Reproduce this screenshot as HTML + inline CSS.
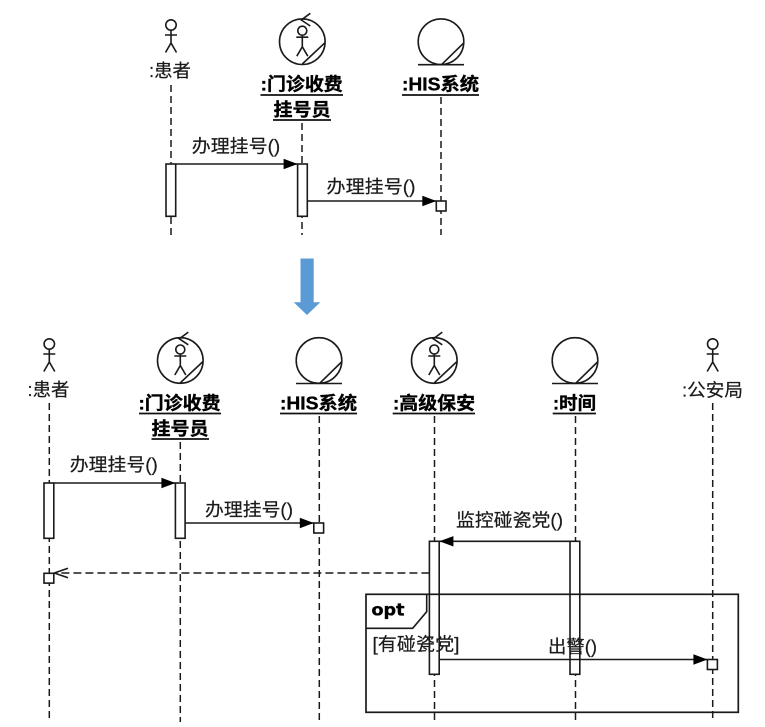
<!DOCTYPE html>
<html><head><meta charset="utf-8"><style>
html,body{margin:0;padding:0;background:#fff}
svg{display:block}
text{font-family:"Liberation Sans","Noto Sans CJK SC",sans-serif;font-size:18px;fill:#1a1a1a;stroke:#1a1a1a;stroke-width:.2px;text-anchor:middle;dominant-baseline:central}
text.b{font-weight:bold;fill:#000;stroke:#000;stroke-width:.35px}
.l{stroke:#1a1a1a;stroke-width:1.6;fill:none}
.ll{stroke:#1a1a1a;stroke-width:1.5;stroke-dasharray:7 4;fill:none}
.act{stroke:#1a1a1a;stroke-width:1.6;fill:#fff}
.u{stroke:#111;stroke-width:1.7}
.h{fill:#000;stroke:none}
</style></head><body>
<svg width="765" height="727" viewBox="0 0 765 727" xmlns="http://www.w3.org/2000/svg">
<defs>
<g id="actor" class="l"><circle cx="0" cy="0" r="5.2"/><path d="M0 5.2V18M-6 10H6M-5.5 27.5L0 18L5.5 27.5"/></g>
<g id="control" class="l"><circle cx="0" cy="0" r="22.8"/><path d="M8 -28.4L-1 -21.7L8 -15.7M22.7 1L0 22.3M-6 -4.5H6M0 -6V5M-5.5 14.5L0 5L5.5 14.5"/><circle cx="0" cy="-11" r="4.5" fill="#fff"/></g>
<g id="boundary" class="l"><circle cx="0" cy="0" r="22.8"/><path d="M-23 23H23M23 1L0.5 23"/></g>
<path id="hr" class="h" d="M0 0L-14 -5.2V5.2Z"/>
<path id="hl" class="h" d="M0 0L14 -5.2V5.2Z"/>
</defs>

<!-- top diagram -->
<use href="#actor" x="171" y="25"/>
<text x="170" y="71" textLength="42" lengthAdjust="spacingAndGlyphs">:患者</text>
<path class="ll" d="M171 85V235"/>
<use href="#control" x="302.3" y="41.7"/>
<text class="b" x="301.7" y="84.5" textLength="82" lengthAdjust="spacingAndGlyphs">:门诊收费</text>
<path class="u" d="M260.5 95H343"/>
<text class="b" x="302" y="110" textLength="57" lengthAdjust="spacingAndGlyphs">挂号员</text>
<path class="u" d="M273 120H331"/>
<path class="ll" d="M302 123V235"/>
<use href="#boundary" x="441" y="41.7"/>
<text class="b" x="440.5" y="84.5" textLength="77" lengthAdjust="spacingAndGlyphs">:HIS系统</text>
<path class="u" d="M402 95H479"/>
<path class="ll" d="M441 97V235"/>

<rect class="act" x="166" y="164" width="9.7" height="52.3"/>
<rect class="act" x="297.6" y="164" width="9.7" height="52.3"/>
<path class="l" d="M175.7 164H297"/><use href="#hr" x="297.6" y="164"/>
<text x="236" y="146.5" textLength="88.5" lengthAdjust="spacingAndGlyphs">办理挂号()</text>
<rect class="act" x="436.3" y="201" width="9.7" height="10"/>
<path class="l" d="M307.3 201H436"/><use href="#hr" x="436.3" y="201"/>
<text x="371" y="187" textLength="89" lengthAdjust="spacingAndGlyphs">办理挂号()</text>

<!-- block arrow -->
<path d="M300.5 258.5H313.7V302.3H320.3L307 315L293.7 302.3H300.5Z" fill="#5b9bd5"/>

<!-- bottom diagram -->
<use href="#actor" x="49.3" y="344"/>
<text x="48.5" y="390" textLength="42" lengthAdjust="spacingAndGlyphs">:患者</text>
<path class="ll" d="M49.3 403V722"/>
<use href="#control" x="180.3" y="360.5"/>
<text class="b" x="179.5" y="403.5" textLength="82" lengthAdjust="spacingAndGlyphs">:门诊收费</text>
<path class="u" d="M139 413.5H221"/>
<text class="b" x="180" y="429" textLength="57" lengthAdjust="spacingAndGlyphs">挂号员</text>
<path class="u" d="M151.5 439H209"/>
<path class="ll" d="M180.3 442V722"/>
<use href="#boundary" x="319" y="360.5"/>
<text class="b" x="318.5" y="403.5" textLength="77" lengthAdjust="spacingAndGlyphs">:HIS系统</text>
<path class="u" d="M280 413.5H357"/>
<path class="ll" d="M319.3 416V722"/>
<use href="#control" x="434.3" y="360.5"/>
<text class="b" x="434" y="403.5" textLength="82" lengthAdjust="spacingAndGlyphs">:高级保安</text>
<path class="u" d="M392.7 413.5H475"/>
<path class="ll" d="M434.5 416V722"/>
<use href="#boundary" x="575" y="360.5"/>
<text class="b" x="574.5" y="403.5" textLength="43" lengthAdjust="spacingAndGlyphs">:时间</text>
<path class="u" d="M552.7 413.5H596"/>
<path class="ll" d="M575.5 416V722"/>
<use href="#actor" x="712.7" y="344"/>
<text x="712.5" y="390.5" textLength="61" lengthAdjust="spacingAndGlyphs">:公安局</text>
<path class="ll" d="M712.7 403V722"/>

<rect class="act" x="44" y="483" width="9.8" height="55.3"/>
<rect class="act" x="175.4" y="483" width="9.7" height="55.3"/>
<path class="l" d="M53.8 483H175"/><use href="#hr" x="175.4" y="483"/>
<text x="113.8" y="465" textLength="88" lengthAdjust="spacingAndGlyphs">办理挂号()</text>
<rect class="act" x="313.8" y="523" width="9.8" height="10"/>
<path class="l" d="M185.1 523H313"/><use href="#hr" x="313.8" y="523"/>
<text x="249" y="510" textLength="88" lengthAdjust="spacingAndGlyphs">办理挂号()</text>

<rect class="act" x="429.4" y="541.3" width="9.8" height="133"/>
<rect class="act" x="570" y="541.3" width="9.8" height="133"/>
<path class="l" d="M570 541.3H440"/><use href="#hl" x="439.4" y="541.3"/>
<text x="509.5" y="520.5" textLength="107" lengthAdjust="spacingAndGlyphs">监控碰瓷党()</text>

<rect class="act" x="44" y="573.3" width="9.8" height="9.8"/>
<path class="l" style="stroke-dasharray:8 4" d="M429.4 573H55"/>
<path class="l" d="M68 568.3L54.3 573L68 577.8"/>

<rect class="l" x="366" y="594.3" width="372.3" height="118" style="stroke-width:1.7"/>
<path class="l" d="M426.7 594.3V611.7L412.7 628.3H366"/>
<text class="b" x="388" y="610.5" textLength="33" lengthAdjust="spacingAndGlyphs" style="font-family:'DejaVu Sans',sans-serif;font-size:17px">opt</text>
<text x="416" y="644.5" textLength="87" lengthAdjust="spacingAndGlyphs">[有碰瓷党]</text>
<text x="572.5" y="647" textLength="49" lengthAdjust="spacingAndGlyphs">出警()</text>
<rect class="act" x="707.4" y="659.5" width="10" height="10"/>
<path class="l" d="M439.2 659.5H707"/><use href="#hr" x="707.4" y="659.5"/>
</svg>
</body></html>
